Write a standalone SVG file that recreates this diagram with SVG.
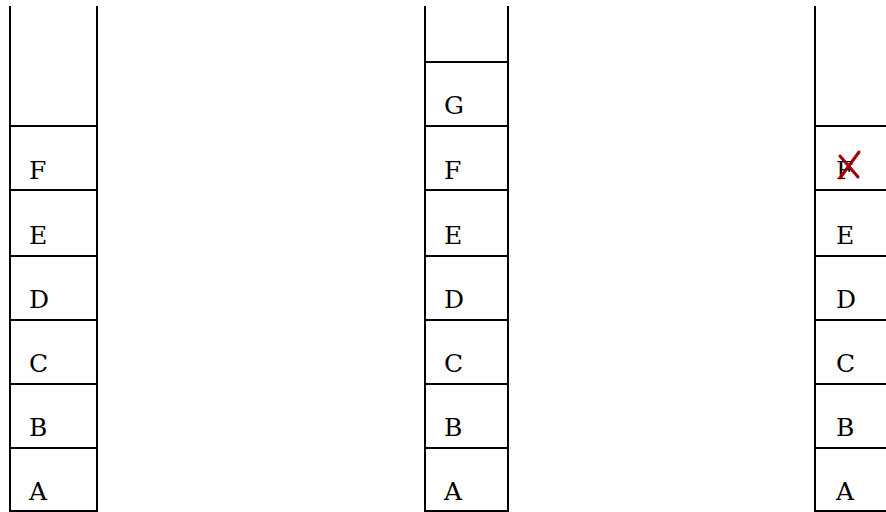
<svg xmlns="http://www.w3.org/2000/svg" width="886" height="512" viewBox="0 0 886 512">
<style>
.ln{stroke:#000;stroke-width:2;fill:none}
.t{font-family:"DejaVu Serif","Liberation Serif",serif;font-size:25px;fill:#000}
.x{stroke:#a00000;stroke-width:3;fill:none;stroke-linecap:round}
</style>
<rect width="886" height="512" fill="#fff"/>
<g id="stack1">
<path class="ln" d="M10,6V512M97,6V512M10,126H97M10,190H97M10,256H97M10,320H97M10,384H97M10,448H97M10,511H97"/>
<text class="t" x="29" y="179">F</text>
<text class="t" x="29" y="244">E</text>
<text class="t" x="29" y="308">D</text>
<text class="t" x="29" y="372">C</text>
<text class="t" x="29" y="436">B</text>
<text class="t" x="29" y="500">A</text>
</g>
<g id="stack2">
<path class="ln" d="M425,6V512M508,6V512M425,62H508M425,126H508M425,190H508M425,256H508M425,320H508M425,384H508M425,448H508M425,511H508"/>
<text class="t" x="444" y="114">G</text>
<text class="t" x="444" y="179">F</text>
<text class="t" x="444" y="244">E</text>
<text class="t" x="444" y="308">D</text>
<text class="t" x="444" y="372">C</text>
<text class="t" x="444" y="436">B</text>
<text class="t" x="444" y="500">A</text>
</g>
<g id="stack3">
<path class="ln" d="M815,6V512M815,126H886M815,190H886M815,256H886M815,320H886M815,384H886M815,448H886M815,511H886"/>
<text class="t" x="836" y="179">F</text>
<path class="x" d="M840,156L858,177M859,152L840,178"/>
<text class="t" x="836" y="244">E</text>
<text class="t" x="836" y="308">D</text>
<text class="t" x="836" y="372">C</text>
<text class="t" x="836" y="436">B</text>
<text class="t" x="836" y="500">A</text>
</g>
</svg>
